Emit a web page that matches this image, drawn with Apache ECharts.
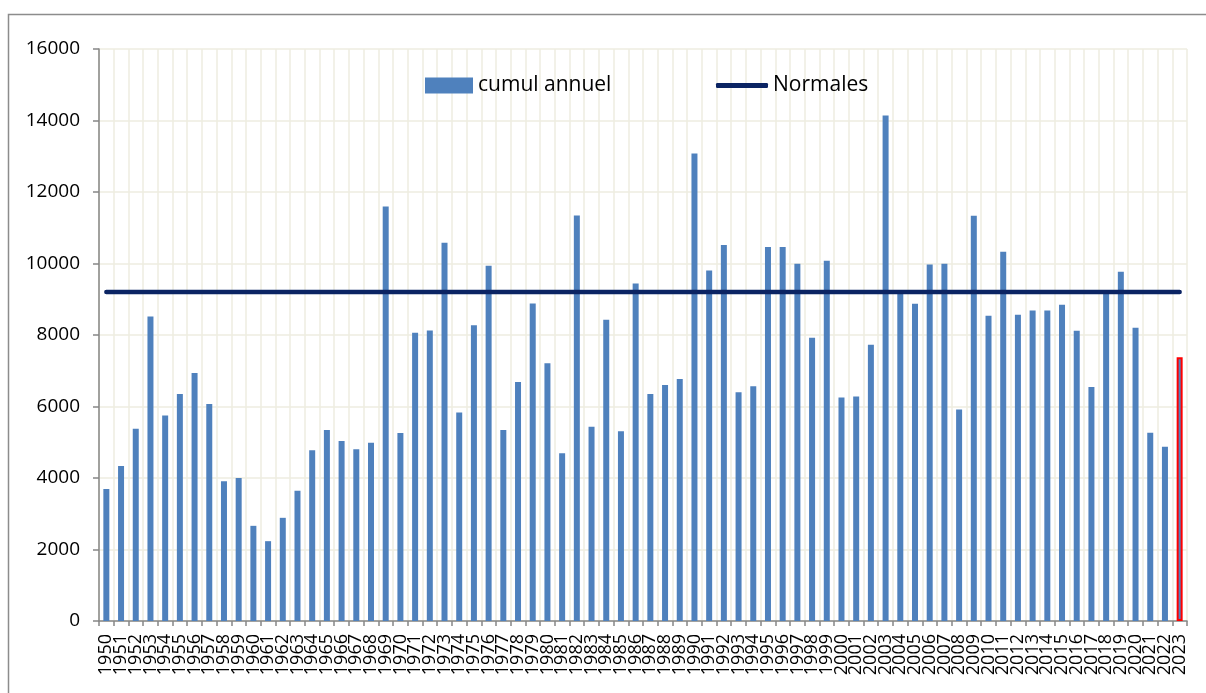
<!DOCTYPE html>
<html>
<head>
<meta charset="utf-8">
<script src="https://cdn.jsdelivr.net/npm/echarts@6/dist/echarts.min.js"></script>
<style>
  html, body { margin: 0; padding: 0; background: #ffffff; }
  #chart { width: 1206px; height: 693px; }
</style>
</head>
<body>
<div id="chart"></div>
<script>
// Années
const years = [
  1950, 1951, 1952, 1953, 1954, 1955, 1956, 1957, 1958, 1959,
  1960, 1961, 1962, 1963, 1964, 1965, 1966, 1967, 1968, 1969,
  1970, 1971, 1972, 1973, 1974, 1975, 1976, 1977, 1978, 1979,
  1980, 1981, 1982, 1983, 1984, 1985, 1986, 1987, 1988, 1989,
  1990, 1991, 1992, 1993, 1994, 1995, 1996, 1997, 1998, 1999,
  2000, 2001, 2002, 2003, 2004, 2005, 2006, 2007, 2008, 2009,
  2010, 2011, 2012, 2013, 2014, 2015, 2016, 2017, 2018, 2019,
  2020, 2021, 2022, 2023
];

// Cumul annuel
const cumulAnnuel = [
  3690, 4335, 5380, 8518, 5745, 6352, 6940, 6072, 3906, 3998,
  2662, 2233, 2886, 3643, 4774, 5343, 5035, 4802, 4988, 11592,
  5259, 8061, 8126, 10580, 5829, 8276, 9938, 5343, 6688, 8882,
  7212, 4690, 11340, 5436, 8425, 5306, 9443, 6352, 6604, 6772,
  13075, 9807, 10518, 6399, 6567, 10462, 10462, 9994, 7921, 10078,
  6249, 6277, 7725, 14141, 9170, 8874, 9975, 9994, 5913, 11335,
  8538, 10331, 8566, 8686, 8686, 8846, 8117, 6548, 9200, 9770,
  8201, 5268, 4876, 7380
];

// Valeur normale
const NORMALE = 9200;

// Graduations de l'axe vertical
const yTicks = { min: 0, max: 16000, interval: 2000 };

const BAR_COLOR = '#4F81BD';
const LINE_COLOR = '#0B2463';
const GRID_COLOR = '#EEECE1';
const AXIS_COLOR = '#868686';
const FONT = '"Open Sans", "Liberation Sans", sans-serif';

const lastIndex = cumulAnnuel.length - 1;
const barData = cumulAnnuel.map((v, i) => i === lastIndex
  ? { value: v, itemStyle: { color: BAR_COLOR, borderColor: '#FF0000', borderWidth: 2 } }
  : v);

const chart = echarts.init(document.getElementById('chart'), null, { renderer: 'canvas' });

chart.setOption({
  animation: false,
  backgroundColor: '#ffffff',
  textStyle: { fontFamily: FONT, color: '#000' },
  graphic: [{
    type: 'rect',
    shape: { x: 8.5, y: 14.5, width: 1400, height: 900 },
    style: { fill: 'none', stroke: '#8C8C8C', lineWidth: 1.5 },
    z: -10,
    silent: true
  }],
  grid: { left: 99, right: 19, top: 49, bottom: 72 },
  legend: [{
    data: [{ name: 'cumul annuel', icon: 'rect' }],
    left: 420, top: 70,
    itemWidth: 48, itemHeight: 16,
    textStyle: { fontFamily: FONT, fontSize: 21, color: '#000' }
  }, {
    data: [{ name: 'Normales', icon: 'roundRect' }],
    left: 711, top: 70,
    itemWidth: 52, itemHeight: 5,
    itemStyle: { color: LINE_COLOR },
    textStyle: { fontFamily: FONT, fontSize: 21, color: '#000' }
  }],
  xAxis: {
    type: 'category',
    data: years.map(String),
    boundaryGap: true,
    axisLine: { show: true, lineStyle: { color: AXIS_COLOR, width: 1.5 } },
    axisTick: { show: true, length: 5, interval: 0, lineStyle: { color: AXIS_COLOR, width: 1.5 } },
    splitLine: { show: true, interval: 0, lineStyle: { color: GRID_COLOR, width: 1.5 } },
    axisLabel: {
      interval: 0, rotate: 90, margin: 13,
      fontFamily: FONT, fontSize: 18, color: '#000'
    }
  },
  yAxis: {
    type: 'value',
    min: yTicks.min, max: yTicks.max, interval: yTicks.interval,
    axisLine: { show: true, lineStyle: { color: AXIS_COLOR, width: 1.5 } },
    axisTick: { show: true, length: 6, lineStyle: { color: AXIS_COLOR, width: 1.5 } },
    splitLine: { show: true, lineStyle: { color: GRID_COLOR, width: 1.5 } },
    axisLabel: {
      margin: 19, fontFamily: FONT, fontSize: 19, color: '#000',
      formatter: (v) => String(v)
    }
  },
  series: [{
    name: 'cumul annuel',
    type: 'bar',
    data: barData,
    barWidth: 6,
    itemStyle: { color: BAR_COLOR },
    z: 2
  }, {
    name: 'Normales',
    type: 'line',
    data: years.map(() => NORMALE),
    symbol: 'none',
    showSymbol: false,
    lineStyle: { color: LINE_COLOR, width: 4.5, cap: 'round' },
    itemStyle: { color: LINE_COLOR },
    z: 3
  }]
});
</script>
</body>
</html>
